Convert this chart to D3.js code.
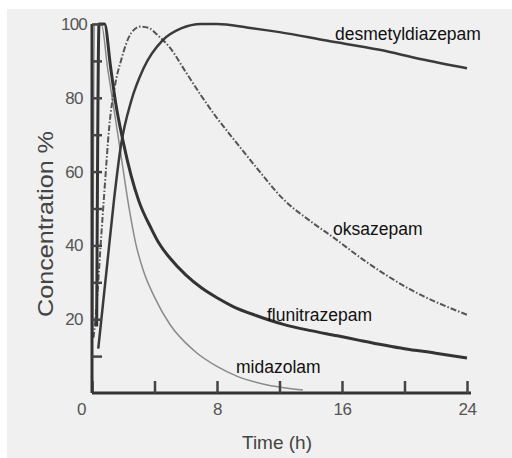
<!DOCTYPE html>
<html>
<head>
<meta charset="utf-8">
<script src="https://cdn.jsdelivr.net/npm/d3@7"></script>
<style>
  html, body { margin: 0; padding: 0; background: #ffffff; }
  svg { display: block; }
</style>
</head>
<body>
<svg id="chart" width="512" height="458"></svg>
<script>
// ---- data (time in hours, concentration in %) ----
const midazolamT = [0.05, 0.15, 0.6, 1.0, 1.4, 1.8, 2.3, 2.8, 3.3, 4.0, 5.0, 6.5, 8.0, 9.3, 11.0, 12.0, 13.5];
const midazolamC = [15, 100, 100, 88, 77, 66, 52, 40.5, 33, 26, 18.5, 11.6, 7.2, 4.5, 2.4, 1.6, 0.8];

const flunitrazepamT = [0.3, 0.45, 0.8, 1.2, 1.5, 2.0, 2.5, 3.0, 3.8, 4.3, 5.0, 6.0, 7.0, 8.0, 9.0, 10.5, 12.25, 14.0, 15.7, 17.2, 20.0, 22.0, 24.0];
const flunitrazepamC = [18, 100, 100, 88, 79, 68, 59, 52, 44.5, 40.5, 36.5, 32, 28.5, 25.8, 23.5, 21, 18.6, 16.9, 15.5, 14.2, 12, 10.8, 9.5];

const desmetylT = [0.4, 0.7, 1.0, 1.4, 1.85, 2.5, 3.3, 4.5, 5.7, 7.0, 8.0, 10.0, 12.0, 15.0, 18.4, 21.0, 24.0];
const desmetylC = [12, 24, 36, 52, 67, 79, 88, 95.5, 98.8, 100, 100, 99, 97.8, 95.5, 93, 90.5, 88];

const oksazepamT = [0.1, 0.3, 0.55, 0.8, 1.1, 1.5, 1.85, 2.5, 3.1, 3.6, 4.2, 5.0, 6.0, 7.0, 8.0, 9.1, 10.5, 12.25, 14.0, 15.4, 17.6, 20.4, 24.0];
const oksazepamC = [15, 24, 40, 55, 72, 84, 90, 97.5, 99.3, 99, 97, 93.5, 87, 80.5, 74.5, 68.6, 61.2, 52.5, 46.5, 42.3, 35.4, 28, 21.2];

const xTicksMajor = [0, 8, 16, 24];
const xTicksMinor = [4, 12, 20];
const yTicksMajor = [20, 40, 60, 80, 100];
const yTicksMinor = [10, 30, 50, 70, 90];

const seriesLabels = ["desmetyldiazepam", "oksazepam", "flunitrazepam", "midazolam"];
const xTitle = "Time (h)";
const yTitle = "Concentration %";

// ---- drawing ----
const svg = d3.select("#chart");

svg.append("rect").attr("x", 7).attr("y", 9).attr("width", 505).attr("height", 449).attr("fill", "#f0f0f0");

const x = d3.scaleLinear().domain([0, 24]).range([92, 467]);
const y = d3.scaleLinear().domain([0, 100]).range([393, 24]);

const line = d3.line().x(d => x(d[0])).y(d => y(d[1])).curve(d3.curveMonotoneX);
const zip = (a, b) => a.map((v, i) => [v, b[i]]);

const g = svg.append("g");

// curves
g.append("path").datum(zip(midazolamT, midazolamC)).attr("d", line)
  .attr("fill", "none").attr("stroke", "#8a8a8a").attr("stroke-width", 1.5);
g.append("path").datum(zip(oksazepamT, oksazepamC)).attr("d", line)
  .attr("fill", "none").attr("stroke", "#555").attr("stroke-width", 2)
  .attr("stroke-dasharray", "6,2,1.5,2");
g.append("path").datum(zip(desmetylT, desmetylC)).attr("d", line)
  .attr("fill", "none").attr("stroke", "#3a3a3a").attr("stroke-width", 2.5);
g.append("path").datum(zip(flunitrazepamT, flunitrazepamC)).attr("d", line)
  .attr("fill", "none").attr("stroke", "#333").attr("stroke-width", 3);

// axes
const xAxis = d3.axisBottom(x).tickValues(xTicksMajor.concat(xTicksMinor)).tickSize(-12)
  .tickFormat(d => xTicksMajor.includes(d) ? d : "");
const gx = svg.append("g").attr("transform", `translate(0,${y(0)})`).call(xAxis);
gx.select(".domain").attr("d", `M${x(0)},0H${x(24) + 4}`).attr("stroke", "#333").attr("stroke-width", 3);
gx.selectAll(".tick line").attr("stroke", "#444").attr("stroke-width", 2.5);
gx.selectAll(".tick text").attr("y", 10).attr("dy", "0.71em")
  .attr("font-family", "Liberation Sans, Arial, sans-serif").attr("font-size", 17)
  .attr("fill", "#555").attr("letter-spacing", -0.5)
  .attr("dx", d => d === 0 ? -11 : 0);

const yAxis = d3.axisLeft(y).tickValues(yTicksMajor.concat(yTicksMinor)).tickSize(-10)
  .tickFormat(d => yTicksMajor.includes(d) ? d : "");
const gy = svg.append("g").attr("transform", `translate(${x(0)},0)`).call(yAxis);
gy.select(".domain").attr("d", `M0,${y(100)}V${y(0)}`).attr("stroke", "#333").attr("stroke-width", 3);
gy.selectAll(".tick line").attr("stroke", "#444").attr("stroke-width", 2.5);
gy.selectAll(".tick text").attr("x", -18).attr("text-anchor", "middle")
  .attr("font-family", "Liberation Sans, Arial, sans-serif").attr("font-size", 17)
  .attr("fill", "#555").attr("letter-spacing", -0.8);

// axis titles
svg.append("text").attr("x", 277).attr("y", 449).attr("text-anchor", "middle")
  .attr("font-family", "Liberation Sans, Arial, sans-serif").attr("font-size", 19)
  .attr("fill", "#444").text(xTitle);
svg.append("text").attr("transform", "translate(53,224) rotate(-90)").attr("text-anchor", "middle")
  .attr("font-family", "Liberation Sans, Arial, sans-serif").attr("font-size", 22)
  .attr("fill", "#444").attr("textLength", 186).attr("lengthAdjust", "spacingAndGlyphs").text(yTitle);

// curve labels
const labelPos = [[335, 40], [333, 235], [267, 321], [236, 373]];
seriesLabels.forEach((t, i) => {
  svg.append("text").attr("x", labelPos[i][0]).attr("y", labelPos[i][1])
    .attr("font-family", "Liberation Sans, Arial, sans-serif").attr("font-size", 17.5)
    .attr("fill", "#111").text(t);
});
</script>
</body>
</html>
